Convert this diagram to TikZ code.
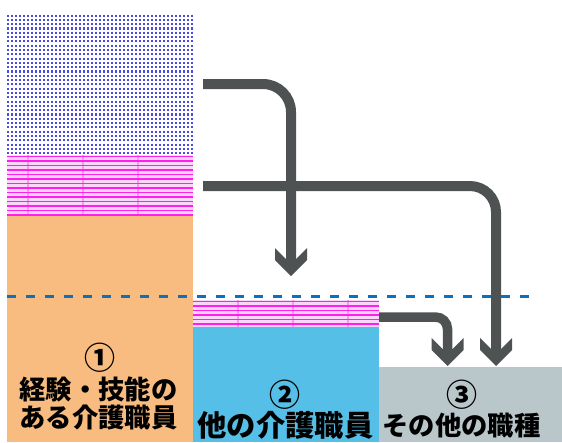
\documentclass[tikz,border=0pt]{standalone}
\usepackage{fontspec}
\newfontfamily\cjk{Noto Sans CJK JP}
\usetikzlibrary{calc}
\definecolor{orangeF}{HTML}{F8BC80}
\definecolor{blueF}{HTML}{56BFE7}
\definecolor{grayF}{HTML}{B9C6CA}
\definecolor{arrowC}{HTML}{4E5253}
\definecolor{dashC}{HTML}{0A70C0}
\definecolor{magS}{HTML}{FF1EF0}
\definecolor{pinkL}{HTML}{FCD6FA}
\definecolor{dotC}{HTML}{4A4AE4}
\newcommand\mychev[1]{\fill[arrowC] (#1) -- ++(-16,-16) -- ++(0,-12) -- ++(11,11) -- ++(10,0) -- ++(11,-11) -- ++(0,12) -- cycle;}
\tikzset{
  flow/.style={draw=arrowC, line width=10pt},
  lbl/.style={font=\cjk\bfseries\fontsize{26.3}{30}\selectfont, inner sep=0pt, anchor=center, text=black},
  lblb/.style={font=\cjk\bfseries\fontsize{29.3}{32}\selectfont, inner sep=0pt, anchor=center, text=black},
  num/.style={font=\cjk\bfseries\fontsize{31}{34}\selectfont, inner sep=0pt, anchor=center, text=black},
  stripe/.style={draw=magS, line width=1.7pt},
  vstripe/.style={draw=magS, opacity=0.35, line width=1.2pt},
}
\begin{document}
\begin{tikzpicture}[x=1pt,y=-1pt]
\useasboundingbox (0,0) rectangle (562,442);
% column 1
\fill[orangeF] (7,216) rectangle (193,442);
\fill[pinkL] (7,155) rectangle (193,216);
\foreach \y in {156.5,161,...,215} \draw[stripe] (7,\y) -- (193,\y);
\foreach \x in {28,83,138} \draw[vstripe] (\x,155) -- (\x,216);
\foreach \x in {8,12,...,192} \draw[dotC, line width=1.3pt, dash pattern=on 2.1pt off 2.2pt] (\x,14.5) -- (\x,154);
% column 2
\fill[blueF] (193,327) rectangle (379,442);
\fill[pinkL] (193,300) rectangle (379,327);
\foreach \y in {301.5,306,...,327} \draw[stripe] (193,\y) -- (379,\y);
\foreach \x in {238,293,348} \draw[vstripe] (\x,300) -- (\x,327);
% column 3
\fill[grayF] (379,367) rectangle (562,442);
% dashed level line
\draw[dashC, line width=3.2pt, dash pattern=on 9pt off 10pt] (7,296.5) -- (537,296.5);
% arrow coordinates
\coordinate (a1s) at (203,84);
\coordinate (a1e) at (291,262);
\coordinate (a1t) at (291,276);
\coordinate (a2s) at (203,186);
\coordinate (a2e) at (496,352);
\coordinate (a2t) at (496,366);
\coordinate (a3s) at (379,317);
\coordinate (a3e) at (447.5,352);
\coordinate (a3t) at (447.5,366);
\draw[flow, rounded corners=28pt] (a1s) -| (a1e);
\mychev{a1t}
\draw[flow, rounded corners=26pt] (a2s) -| (a2e);
\mychev{a2t}
\draw[flow, line width=9.5pt, rounded corners=12pt] (a3s) -| (a3e);
\mychev{a3t}
% labels
\node[num] (n1) at (100,357.5) {①};
\node[lbl] (t1a) at (98.5,389) {経験・技能の};
\node[lbl] (t1b) at (98.5,417.5) {ある介護職員};
\node[num] (n2) at (285,395) {②};
\node[lblb] (t2) at (285.5,425) {他の介護職員};
\node[num] (n3) at (462,395) {③};
\node[lbl] (t3) at (461.5,425.5) {その他の職種};
\end{tikzpicture}
\end{document}
